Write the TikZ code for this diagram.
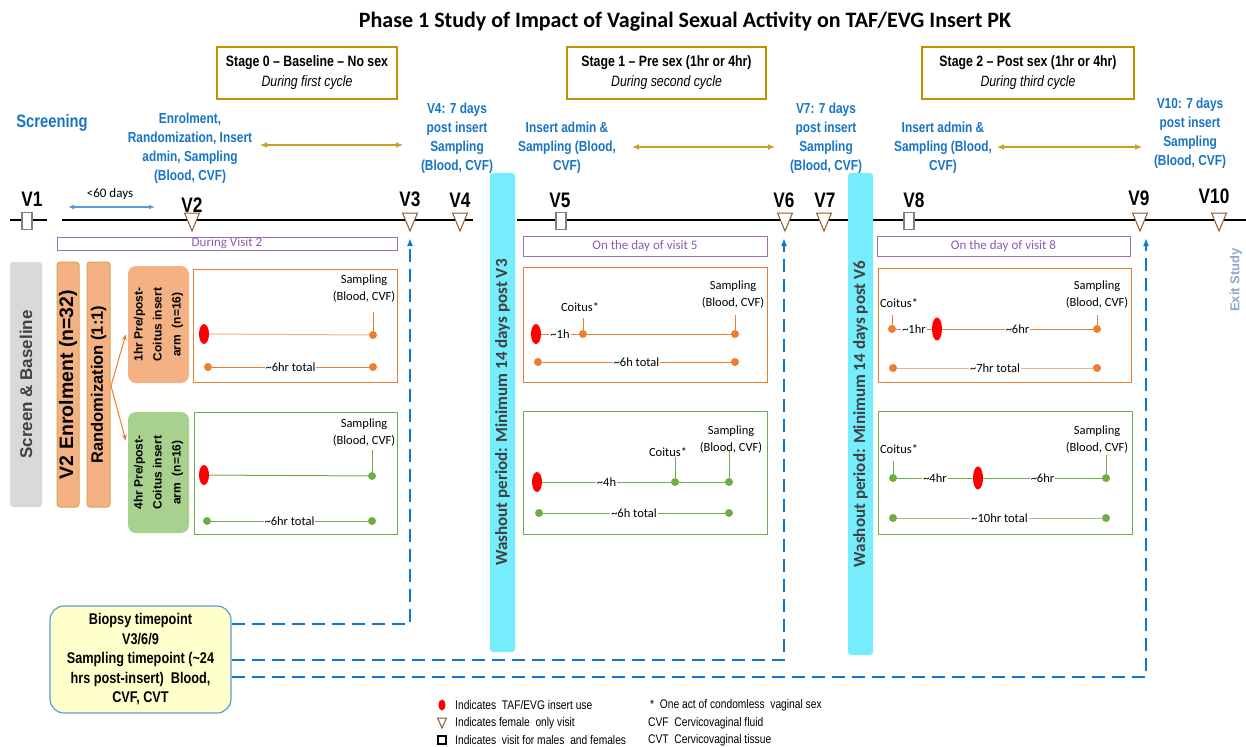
\documentclass[tikz,border=0pt]{standalone}
\usepackage{fontspec}
\setmainfont{Liberation Sans}
\newfontfamily\narrowfont[FakeStretch=0.82]{Liberation Sans}
\newfontfamily\calfont{Carlito}
\usetikzlibrary{shapes.geometric,arrows.meta}

\definecolor{visitblue}{HTML}{1874C4}
\definecolor{stagegold}{HTML}{BF9000}
\definecolor{armorange}{HTML}{ED7D31}
\definecolor{armgreen}{HTML}{70AD47}
\definecolor{lightorange}{HTML}{F4B183}
\definecolor{lightgreen}{HTML}{A9D18E}
\definecolor{washcyan}{HTML}{75EDFC}
\definecolor{daypurple}{HTML}{7030A0}
\definecolor{fembrown}{HTML}{8B5A2B}
\definecolor{notegray}{HTML}{404040}
\definecolor{exitgray}{HTML}{8EA9C8}
\definecolor{dashblue}{HTML}{0E78D0}
\definecolor{spanblue}{HTML}{5B9BD5}
\definecolor{biopsyyellow}{HTML}{FFFFCC}
\definecolor{bargold}{HTML}{D4A74A}

\begin{document}
\begin{tikzpicture}[x=1pt,y=1pt,
  stagebox/.style={draw=stagegold,line width=1.6pt,minimum height=52,align=center,
    font=\narrowfont\fontsize{15}{20}\selectfont},
  bluenote/.style={text=visitblue,align=center,font=\narrowfont\bfseries\fontsize{14.5}{19}\selectfont},
  visitname/.style={font=\narrowfont\bfseries\fontsize{21}{24}\selectfont},
  bothvisit/.style={draw=gray,fill=white,line width=1.3pt,minimum width=10,minimum height=17},
  femvisit/.style={draw=fembrown,fill=white,line width=1pt},
  timeline/.style={line width=2.6pt},
  cyclearrow/.style={stagegold!85,line width=1.2pt,{Latex[length=7pt,width=6pt]}-{Latex[length=7pt,width=6pt]}},
  daybox/.style={draw=daypurple!70,line width=0.9pt,text=daypurple!80,font=\calfont\fontsize{13}{13}\selectfont},
  washbar/.style={fill=washcyan,rounded corners=3pt,rotate=90,minimum height=25,
    text=notegray,font=\calfont\bfseries\fontsize{17}{20}\selectfont},
  sidebar/.style={rotate=90,rounded corners=3pt,minimum width=245,
    font=\bfseries\fontsize{16.5}{20}\selectfont},
  armbox/.style={rotate=90,rounded corners=8pt,minimum height=61,align=center,
    font=\bfseries\fontsize{12}{19}\selectfont},
  detailbox/.style={draw=#1,line width=0.9pt},
  insert/.style={ellipse,fill=red,minimum width=10,minimum height=20},
  odot/.style={circle,fill=armorange,minimum size=8},
  gdot/.style={circle,fill=armgreen,minimum size=8},
  note/.style={align=center,font=\calfont\fontsize{12.5}{17}\selectfont},
  span/.style={fill=white,inner sep=1pt,text=black,font=\calfont\fontsize{12.5}{14}\selectfont},
  biopsylink/.style={dashblue,line width=2pt,dash pattern=on 13pt off 7pt,-{Latex[length=8pt,width=6pt]}},
  legendtext/.style={anchor=west,font=\narrowfont\fontsize{12.5}{14}\selectfont},
]
\tikzstyle{every node}+=[inner sep=0pt]
\useasboundingbox (0,0) rectangle (1246,-746);

% title and stages
\node[font=\calfont\bfseries\fontsize{22}{24}\selectfont] (title) at (685,-22)
  {Phase 1 Study of Impact of Vaginal Sexual Activity on TAF/EVG Insert PK};
\node[stagebox,minimum width=180] (stage0) at (307,-73)
  {\textbf{Stage 0 – Baseline – No sex}\\\textit{During first cycle}};
\node[stagebox,minimum width=199] (stage1) at (666.5,-73)
  {\textbf{Stage 1 – Pre sex (1hr or 4hr)}\\\textit{During second cycle}};
\node[stagebox,minimum width=212] (stage2) at (1028,-73)
  {\textbf{Stage 2 – Post sex (1hr or 4hr)}\\\textit{During third cycle}};

% blue notes
\node[bluenote,font=\narrowfont\bfseries\fontsize{18}{20}\selectfont] (screening) at (52,-123) {Screening};
\node[bluenote] (enrol) at (190,-148.5) {Enrolment,\\Randomization, Insert\\admin, Sampling\\(Blood, CVF)};
\node[bluenote] (v4note) at (457,-138.5) {V4: 7 days\\post insert\\Sampling\\(Blood, CVF)};
\node[bluenote] (admin1) at (567,-147.5) {Insert admin \&\\Sampling (Blood,\\CVF)};
\node[bluenote] (v7note) at (826,-138.5) {V7: 7 days\\post insert\\Sampling\\(Blood, CVF)};
\node[bluenote] (admin2) at (943,-148) {Insert admin \&\\Sampling (Blood,\\CVF)};
\node[bluenote] (v10note) at (1190,-133) {V10: 7 days\\post insert\\Sampling\\(Blood, CVF)};

\coordinate (c0a) at (260,-145); \coordinate (c0b) at (403,-145);
\coordinate (c1a) at (632,-147); \coordinate (c1b) at (775,-147);
\coordinate (c2a) at (997,-147); \coordinate (c2b) at (1142,-147);
\draw[cyclearrow] (c0a) -- (c0b);
\draw[cyclearrow] (c1a) -- (c1b);
\draw[cyclearrow] (c2a) -- (c2b);

% timeline
\coordinate (tA) at (10,-220); \coordinate (tB) at (47,-220);
\coordinate (tC) at (62,-220); \coordinate (tD) at (473,-220);
\coordinate (tE) at (517,-220); \coordinate (tF) at (848,-220);
\coordinate (tG) at (873,-220); \coordinate (tH) at (1246,-220);
\draw[timeline] (tA) -- (tB);
\draw[timeline] (tC) -- (tD);
\draw[timeline] (tE) -- (tF);
\draw[timeline] (tG) -- (tH);

\foreach \n/\x/\y in {1/32/199,2/192/205,3/410/199,4/460/200,5/560/200,
                      6/784/200,7/825/200,8/914/200,9/1139/198,10/1214/196}
  \node[visitname] (v\n) at (\x,-\y) {V\n};
\foreach \x/\n in {192/2,410/3,460/4,785/6,824/7,1140/9,1219/10}
{
  \draw[femvisit] (\x-7.5,-213) -- (\x+7.5,-213) -- (\x,-231) -- cycle;
  \coordinate (t\n) at (\x,-231);
}
\node[bothvisit] (m1) at (27,-221) {};
\node[bothvisit] (m5) at (561,-221) {};
\node[bothvisit] (m8) at (909,-221) {};

\node[font=\calfont\fontsize{13}{14}\selectfont] (days) at (110,-194) {<60 days};
\coordinate (dA) at (68,-207); \coordinate (dB) at (155,-207);
\draw[spanblue,line width=1.2pt,{Latex[length=6pt,width=5pt]}-{Latex[length=6pt,width=5pt]}] (dA) -- (dB);

\node[daybox,minimum width=340,minimum height=13] (day2) at (227,-243.5) {During Visit 2};
\node[daybox,minimum width=244,minimum height=20] (day5) at (645,-246) {On the day of visit 5};
\node[daybox,minimum width=253,minimum height=20] (day8) at (1003.5,-246) {On the day of visit 8};

% washout bars
\node[washbar,minimum width=479] (wash1) at (502.5,-412.5) {Washout period: Minimum 14 days post V3};
\node[washbar,minimum width=482] (wash2) at (860.5,-414) {Washout period: Minimum 14 days post V6};

% left side
\node[sidebar,fill=black!15,text=notegray,minimum height=32,font=\bfseries\fontsize{17}{20}\selectfont]
  (screen) at (26,-384.5) {Screen \& Baseline};
\node[sidebar,fill=lightorange,draw=bargold,line width=1pt,minimum height=22,font=\bfseries\fontsize{19.5}{20}\selectfont]
  (enrolbar) at (68,-384.5) {V2 Enrolment (n=32)};
\node[sidebar,fill=lightorange,draw=bargold,line width=1pt,minimum height=23] (randbar) at (98.5,-384.5) {Randomization (1:1)};
\node[armbox,fill=lightorange,minimum width=117] (arm1) at (158.5,-324.5) {1hr Pre/post-\\Coitus insert\\arm\ \ (n=16)};
\node[armbox,fill=lightgreen,minimum width=121] (arm4) at (158.5,-472.5) {4hr Pre/post-\\Coitus insert\\arm\ \ (n=16)};
\coordinate (split) at (111,-386);
\draw[armorange,line width=1pt,-{Stealth[length=6pt,width=5pt]}] (split) -- ([xshift=-2pt,yshift=-10pt]arm1.north);
\draw[armorange,line width=1pt,-{Stealth[length=6pt,width=5pt]}] (split) -- ([xshift=-2pt,yshift=32pt]arm4.north);

% stage 0 panels
\node[detailbox=armorange,minimum width=204,minimum height=113] (o0) at (295,-325.5) {};
\node[insert] (o0i) at (204,-334) {};
\node[odot] (o0s) at (373,-335) {};
\node[note] (o0st) at (364,-289) {Sampling\\(Blood, CVF)};
\draw[armorange!60,line width=1pt] (o0i) -- (o0s);
\draw[armorange] (o0s) -- ++(0,23);
\node[odot] (o0a) at (208,-367) {};
\node[odot] (o0b) at (373,-367) {};
\draw[armorange,line width=1pt] (o0a) -- node[span] {\textasciitilde 6hr total} (o0b);

\node[detailbox=armgreen,minimum width=203,minimum height=122] (g0) at (295.5,-473) {};
\node[insert] (g0i) at (204,-475) {};
\node[gdot] (g0s) at (372,-476) {};
\node[note] (g0st) at (364,-433) {Sampling\\(Blood, CVF)};
\draw[armgreen,line width=1pt] (g0i) -- (g0s);
\draw[armgreen] (g0s) -- ++(0,26);
\node[gdot] (g0a) at (207,-521) {};
\node[gdot] (g0b) at (372,-521) {};
\draw[armgreen,line width=1pt] (g0a) -- node[span] {\textasciitilde 6hr total} (g0b);

% stage 1 panels
\node[detailbox=armorange,minimum width=244,minimum height=115] (o1) at (645,-324.5) {};
\node[insert] (o1i) at (536,-334) {};
\node[odot] (o1c) at (583,-334) {};
\node[odot] (o1s) at (735,-334) {};
\node[note] (o1ct) at (580,-307) {Coitus*};
\node[note] (o1st) at (733,-294.5) {Sampling\\(Blood, CVF)};
\draw[armorange,line width=1pt] (o1i) -- node[span] {\textasciitilde 1h} (o1c);
\draw[armorange,line width=1pt] (o1c) -- (o1s);
\draw[armorange] (o1c) -- ++(0,16);
\draw[armorange] (o1s) -- ++(0,19);
\node[odot] (o1a) at (538,-362) {};
\node[odot] (o1b) at (735,-362) {};
\draw[armorange,line width=1pt] (o1a) -- node[span] {\textasciitilde 6h total} (o1b);

\node[detailbox=armgreen,minimum width=244,minimum height=123] (g1) at (645,-472.5) {};
\node[insert] (g1i) at (537,-482) {};
\node[gdot] (g1c) at (675,-482) {};
\node[gdot] (g1s) at (729,-482) {};
\node[note] (g1ct) at (668,-452) {Coitus*};
\node[note] (g1st) at (731,-440) {Sampling\\(Blood, CVF)};
\draw[armgreen,line width=1pt] (g1i) -- node[span] {\textasciitilde 4h} (g1c);
\draw[armgreen,line width=1pt] (g1c) -- (g1s);
\draw[armgreen] (g1c) -- ++(0,25);
\draw[armgreen] (g1s) -- ++(0,31);
\node[gdot] (g1a) at (539,-513) {};
\node[gdot] (g1b) at (729,-513) {};
\draw[armgreen,line width=1pt] (g1a) -- node[span] {\textasciitilde 6h total} (g1b);

% stage 2 panels
\node[detailbox=armorange,minimum width=253,minimum height=114] (o2) at (1004.5,-325) {};
\node[odot] (o2c) at (892,-329) {};
\node[insert,minimum height=23] (o2i) at (937,-329) {};
\node[odot] (o2s) at (1097,-329) {};
\node[note] (o2ct) at (899,-303) {Coitus*};
\node[note] (o2st) at (1097,-294.5) {Sampling\\(Blood, CVF)};
\draw[armorange,line width=1pt] (o2c) -- node[span] {\textasciitilde 1hr} (o2i);
\draw[armorange,line width=1pt] (o2i) -- node[span] {\textasciitilde 6hr} (o2s);
\draw[armorange] (o2c) -- ++(0,14);
\draw[armorange] (o2s) -- ++(0,14);
\node[odot] (o2a) at (893,-368) {};
\node[odot] (o2b) at (1097,-368) {};
\draw[armorange!60,line width=1pt] (o2a) -- node[span] {\textasciitilde 7hr total} (o2b);

\node[detailbox=armgreen,minimum width=254,minimum height=123] (g2) at (1005,-472.5) {};
\node[gdot] (g2c) at (893,-478) {};
\node[insert,minimum height=23] (g2i) at (978,-478) {};
\node[gdot] (g2s) at (1106,-478) {};
\node[note] (g2ct) at (899,-449) {Coitus*};
\node[note] (g2st) at (1097,-440) {Sampling\\(Blood, CVF)};
\draw[armgreen,line width=1pt] (g2c) -- node[span] {\textasciitilde 4hr} (g2i);
\draw[armgreen,line width=1pt] (g2i) -- node[span] {\textasciitilde 6hr} (g2s);
\draw[armgreen] (g2c) -- ++(0,17);
\draw[armgreen] (g2s) -- ++(0,23);
\node[gdot] (g2a) at (893,-518) {};
\node[gdot] (g2b) at (1106,-518) {};
\draw[armgreen!70,line width=1pt] (g2a) -- node[span] {\textasciitilde 10hr total} (g2b);

\node[rotate=90,text=exitgray,font=\bfseries\fontsize{13}{15}\selectfont] (exit) at (1236,-280) {Exit Study};

% biopsy box and links
\node[draw=spanblue,fill=biopsyyellow,line width=1.2pt,rounded corners=14pt,minimum width=181,minimum height=107,
  align=center,font=\narrowfont\bfseries\fontsize{15.5}{19.5}\selectfont] (biopsy) at (140.5,-659.5)
  {Biopsy timepoint\\V3/6/9\\Sampling timepoint (\textasciitilde 24\\hrs post-insert)\ \ Blood,\\CVF, CVT};
\coordinate (a3) at (410,-238);
\coordinate (a6) at (784,-238);
\coordinate (a9) at (1146,-238);
\draw[biopsylink] ([yshift=35.5pt]biopsy.east) -| (a3);
\draw[biopsylink] ([yshift=-0.5pt]biopsy.east) -| (a6);
\draw[biopsylink] ([yshift=-17.5pt]biopsy.east) -| (a9);

% legend
\node[ellipse,fill=red,minimum width=7,minimum height=11] (lg1) at (442,-705) {};
\draw[femvisit] (437.5,-718) -- (446.5,-718) -- (442,-728) -- cycle;
\coordinate (lg2) at (442,-723);
\node[draw=black,line width=1.2pt,minimum width=8,minimum height=8] (lg3) at (442,-740) {};
\node[legendtext] (lt1) at (455,-705) {Indicates\ \ TAF/EVG insert use};
\node[legendtext] (lt2) at (455,-723) {Indicates female\ \ only visit};
\node[legendtext] (lt3) at (455,-740) {Indicates\ \ visit for males\ \ and females};
\node[legendtext] (lt4) at (650,-705) {*\ \ One act of condomless\ \ vaginal sex};
\node[legendtext] (lt5) at (648,-723) {CVF\ \ Cervicovaginal fluid};
\node[legendtext] (lt6) at (648,-740) {CVT\ \ Cervicovaginal tissue};
\end{tikzpicture}
\end{document}
